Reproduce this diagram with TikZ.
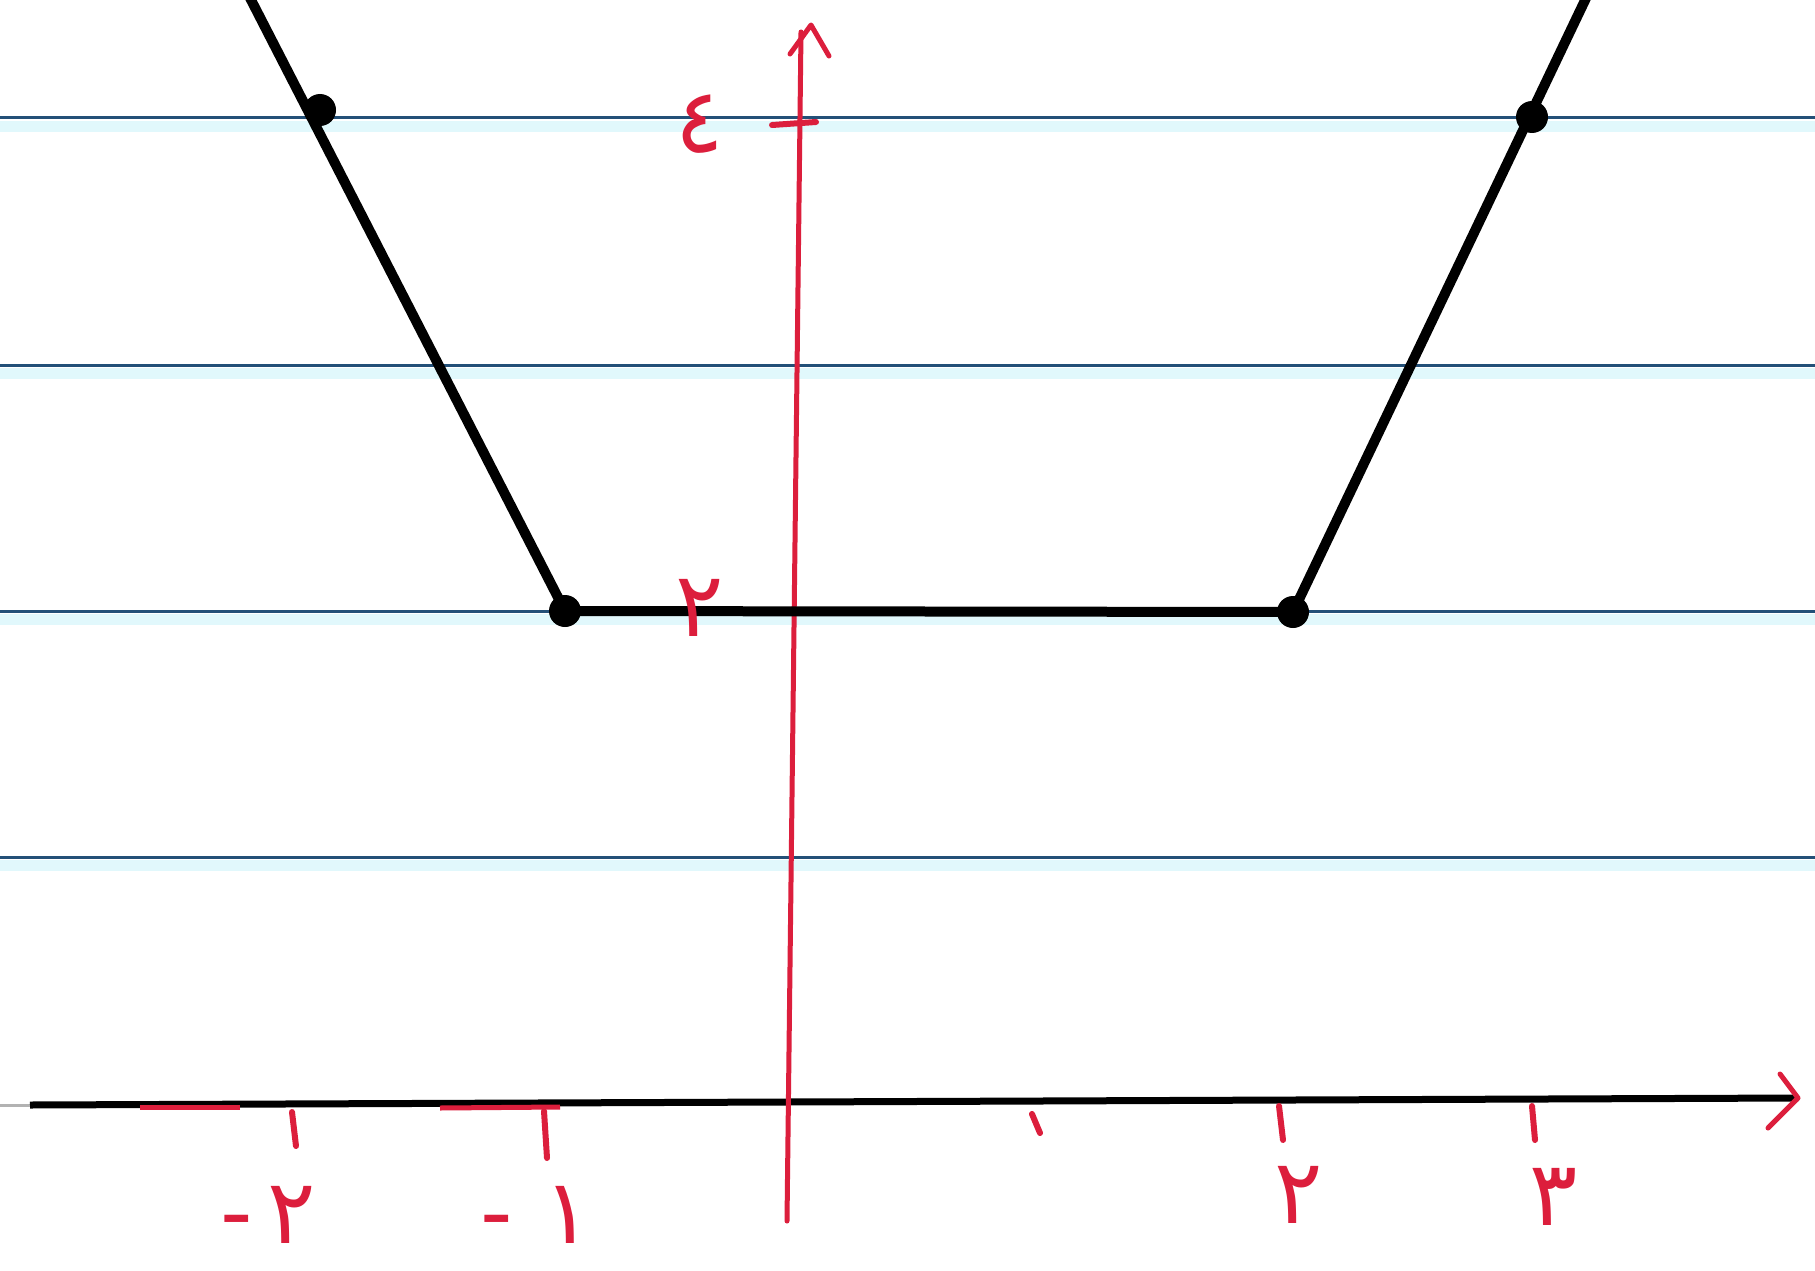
\documentclass[tikz,border=0pt]{standalone}
\usepackage{fontspec}
\newfontfamily\arabicfont[Script=Arabic]{DejaVu Sans}
\TeXXeTstate=1
\definecolor{rulecol}{RGB}{35,80,120}
\definecolor{glowcol}{RGB}{225,248,252}
\definecolor{axred}{RGB}{220,30,60}
\begin{document}
\begin{tikzpicture}[x=1pt,y=-1pt,
  ruled/.style={draw=rulecol,line width=3pt},
  graphline/.style={draw=black,line width=10pt,line cap=round,line join=round},
  axisred/.style={draw=axred,line width=5pt,line cap=round,line join=round},
  tickmark/.style={draw=axred,line width=6pt,line cap=round},
  dot/.style={circle,fill=black,inner sep=0pt,minimum size=32pt},
  lab/.style={text=axred,font=\arabicfont\fontsize{90}{100}\selectfont,inner sep=0pt}]
\useasboundingbox (0,0) rectangle (1815,1271);
\fill[white] (0,0) rectangle (1815,1271);
% ruled paper lines
\foreach \yy in {118,365,611,857}{
  \fill[glowcol] (0,\yy+3) rectangle (1815,\yy+14);
  \draw[ruled] (0,\yy) -- (1815,\yy);
}
% x axis
\coordinate (xl) at (30,1105);
\coordinate (xr) at (1798,1098);
\draw[gray!60,line width=3pt] (0,1105) -- (xl);
\draw[black,line width=7pt] (xl) -- (xr);
\draw[axred,line width=5pt] (140,1107) -- (240,1107);
\draw[axred,line width=5pt] (440,1108) -- (560,1107);
\draw[axisred] (1780,1074) -- (xr) -- (1768,1128);
% y axis
\coordinate (yb) at (787,1221);
\coordinate (yt) at (801,32);
\draw[axisred] (yb) -- (yt);
\draw[axisred] (790,54) -- (811,25) -- (829,56);
% ticks
\draw[tickmark] (772,125) -- (816,122);
\draw[tickmark] (292,1112) -- (296,1146);
\draw[tickmark] (544,1111) -- (547,1158);
\draw[tickmark] (1032,1114) -- (1040,1133);
\draw[tickmark] (1279,1106) -- (1283,1140);
\draw[tickmark] (1532,1106) -- (1535,1140);
% graph
\node[dot] (A) at (320,110) {};
\node[dot] (B) at (565,611) {};
\node[dot] (C) at (1293,612) {};
\node[dot] (D) at (1532,117) {};
\coordinate (tl) at (248,-6);
\coordinate (tr) at (1588,-6);
\draw[graphline] (tl) -- (B.center) -- (C.center) -- (tr);
% labels
\node[lab] (l4) at (700,124) {٤};
\node[lab] (l2y) at (700,608) {٢};
\node[lab] (lm2) at (268,1215) {-\,٢};
\node[lab] (lm1) at (536,1215) {-\,\,١};
\node[lab] (l2) at (1299,1195) {٢};
\node[lab] (l3) at (1554,1197) {٣};
\end{tikzpicture}
\end{document}
